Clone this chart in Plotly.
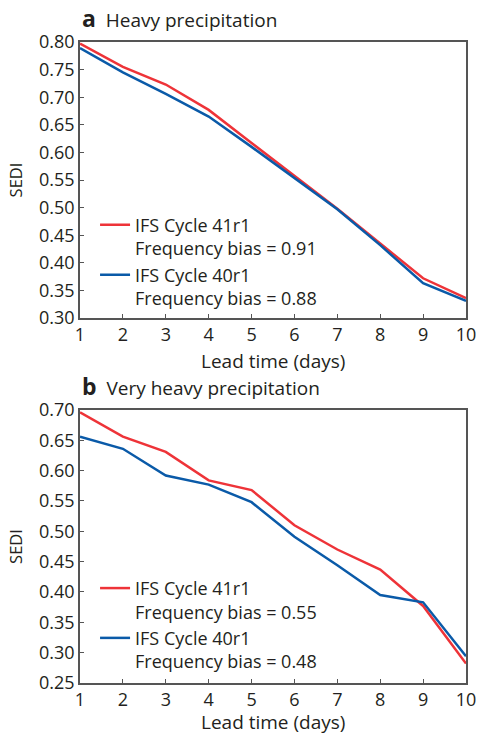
import plotly.graph_objects as go
from plotly.subplots import make_subplots

lead_days = [1, 2, 3, 4, 5, 6, 7, 8, 9, 10]

heavy_41r1 = [0.797, 0.755, 0.723, 0.677, 0.617, 0.557, 0.498, 0.435, 0.372, 0.336]
heavy_40r1 = [0.789, 0.745, 0.706, 0.665, 0.610, 0.553, 0.497, 0.432, 0.363, 0.331]

vheavy_41r1 = [0.696, 0.656, 0.631, 0.584, 0.568, 0.510, 0.470, 0.437, 0.377, 0.282]
vheavy_40r1 = [0.656, 0.636, 0.592, 0.577, 0.548, 0.491, 0.444, 0.395, 0.383, 0.294]

names_a = ["IFS Cycle 41r1<br>Frequency bias = 0.91", "IFS Cycle 40r1<br>Frequency bias = 0.88"]
names_b = ["IFS Cycle 41r1<br>Frequency bias = 0.55", "IFS Cycle 40r1<br>Frequency bias = 0.48"]
x_title = "Lead time (days)"
y_title = "SEDI"

RED = "#ee3338"
BLUE = "#0a5aa8"
FONT = "Open Sans"
AX = "#555555"
TXT = "#231f20"

fig = make_subplots(rows=2, cols=1)

fig.add_trace(go.Scatter(x=lead_days, y=heavy_41r1, mode="lines", name=names_a[0],
                         line=dict(color=RED, width=2.5), legend="legend"), row=1, col=1)
fig.add_trace(go.Scatter(x=lead_days, y=heavy_40r1, mode="lines", name=names_a[1],
                         line=dict(color=BLUE, width=2.5), legend="legend"), row=1, col=1)
fig.add_trace(go.Scatter(x=lead_days, y=vheavy_41r1, mode="lines", name=names_b[0],
                         line=dict(color=RED, width=2.5), legend="legend2"), row=2, col=1)
fig.add_trace(go.Scatter(x=lead_days, y=vheavy_40r1, mode="lines", name=names_b[1],
                         line=dict(color=BLUE, width=2.5), legend="legend2"), row=2, col=1)

axis_common = dict(showline=True, linecolor=AX, linewidth=1.5, mirror=True,
                   ticks="inside", ticklen=4, tickcolor=AX, tickwidth=1,
                   showgrid=False, zeroline=False, automargin=False,
                   tickfont=dict(family=FONT, size=18, color=TXT))

fig.update_xaxes(range=[1, 10], tickmode="array", tickvals=lead_days, **axis_common)
fig.update_yaxes(dtick=0.05, tickformat=".2f",
                 title=dict(text=y_title, font=dict(family=FONT, size=16.5, color=TXT), standoff=12),
                 **axis_common)
fig.update_yaxes(range=[0.30, 0.80], row=1, col=1)
fig.update_yaxes(range=[0.25, 0.70], row=2, col=1)

leg_font = dict(family=FONT, size=18, color=TXT)
title_font = dict(family=FONT, size=19, color=TXT)
fig.update_layout(
    width=479, height=736,
    margin=dict(l=80, r=13, t=42, b=50),
    plot_bgcolor="white", paper_bgcolor="white",
    xaxis=dict(domain=[0, 1]), yaxis=dict(domain=[0.5714, 1.0]),
    xaxis2=dict(domain=[0, 1]), yaxis2=dict(domain=[0.0047, 0.4286]),
    legend=dict(x=0.039, y=0.5735, xanchor="left", yanchor="bottom", valign="top",
                bgcolor="rgba(0,0,0,0)", tracegroupgap=0, font=leg_font),
    legend2=dict(x=0.039, y=0.0095, xanchor="left", yanchor="bottom", valign="top",
                 bgcolor="rgba(0,0,0,0)", tracegroupgap=0, font=leg_font),
    annotations=[
        dict(text="<b><span style='font-size:23px'>a</span></b>  Heavy precipitation",
             xref="paper", yref="paper", x=0, y=1.0, xanchor="left", yanchor="bottom",
             yshift=6, showarrow=False, font=title_font),
        dict(text="<b><span style='font-size:23px'>b</span></b>  Very heavy precipitation",
             xref="paper", yref="paper", x=0, y=0.4286, xanchor="left", yanchor="bottom",
             yshift=6, showarrow=False, font=title_font),
        dict(text=x_title, xref="x domain", yref="y domain", x=0.5, y=0,
             xanchor="center", yanchor="top", yshift=-28, showarrow=False, font=title_font),
        dict(text=x_title, xref="x2 domain", yref="y2 domain", x=0.5, y=0,
             xanchor="center", yanchor="top", yshift=-24, showarrow=False, font=title_font),
    ],
)

fig.write_html("out.html")
